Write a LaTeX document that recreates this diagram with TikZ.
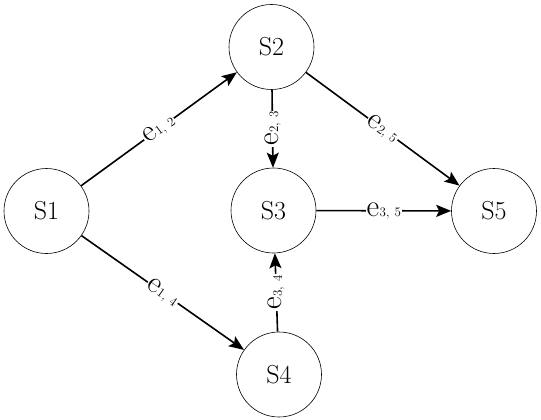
\documentclass[tikz,border=0pt]{standalone}
\usetikzlibrary{arrows.meta}
\newcommand{\elab}[2]{{\fontsize{31}{32}\selectfont e}\hspace{0.5pt}{\fontsize{13}{14}\selectfont #1,\hspace{5pt}#2}}
\begin{document}
\begin{tikzpicture}[x=1pt,y=-1pt,
  state/.style={circle,draw,line width=0.6pt,minimum size=85pt,inner sep=0pt,font=\fontsize{26}{30}\selectfont},
  edge/.style={line width=1.6pt,-{Stealth[length=15pt,width=12pt,inset=3pt]}},
  lab/.style={fill=white,inner sep=1pt,midway}]
\useasboundingbox (0,0) rectangle (541,420);
\node[state] (s1) at (46.5,211) {S1};
\node[state] (s2) at (271.5,47) {S2};
\node[state] (s3) at (273.5,210.5) {S3};
\node[state] (s4) at (279,374.5) {S4};
\node[state] (s5) at (494,211) {S5};
\draw[edge] (s1) -- node[lab,sloped] {\elab{1}{2}} (s2);
\draw[edge] (s2) -- node[lab,rotate=90] {\elab{2}{3}} (s3);
\draw[edge] (s2) -- node[lab,sloped] {\elab{2}{5}} (s5);
\draw[edge] (s3) -- node[lab] {\elab{3}{5}} (s5);
\draw[edge] (s1) -- node[lab,sloped] {\elab{1}{4}} (s4);
\draw[edge] (s4) -- node[lab,rotate=90] {\elab{3}{4}} (s3);
\end{tikzpicture}
\end{document}
